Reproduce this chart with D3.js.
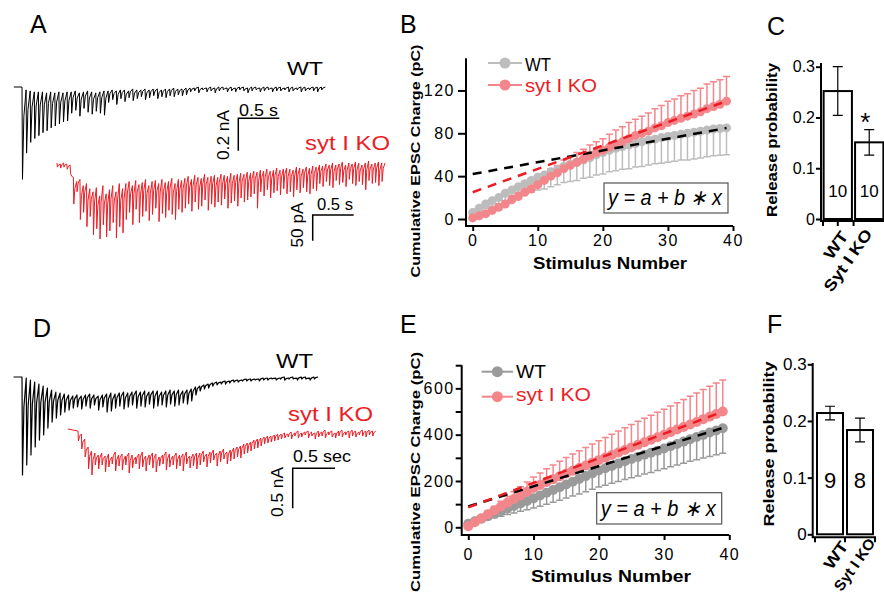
<!DOCTYPE html>
<html>
<head>
<meta charset="utf-8">
<script src="https://cdn.jsdelivr.net/npm/d3@7"></script>
<style>
  body { margin: 0; background: #fff; }
  svg { display: block; font-family: "Liberation Sans", Arial, sans-serif; }
</style>
</head>
<body>
<svg id="fig" width="884" height="602"></svg>
<script>
// ---------- data ----------
// example traces: peak amplitude of each response and level just before it (pA, inward = positive)
const wtTraceA_peak = [570,408,342,318,300,282,270,252,240,228,216,210,
  162,144,180,132,156,168,150,162,174,
  96,78,108,72,90,66,84,72,60,78,66,54,72,60,66,54,60,48,54,48,
  30,24,36,18,30,24,36,24,18,30,24,30,18,24,36,24,18,30,24,18,30,24,24,18,30,24,18,30,24,18,24,30,18];
const wtTraceA_top = [0,18,24,30,30,30,36,30,36,30,36,30,
  30,24,36,30,24,30,36,30,24,
  24,18,24,18,18,24,12,18,18,12,18,12,12,18,12,12,6,12,12,6,
  6,6,0,6,6,0,6,0,0,6,0,6,0,0,6,0,0,6,0,0,6,0,0,6,0,0,6,0,0,6,0,0,0];
const koTraceA_peak = [8,10,8,12,20,
  80,56,110,96,124,104,
  140,128,148,120,144,132,116,146,124,136,
  110,96,120,90,116,104,94,112,100,88,114,98,106,92,100,110,90,96,
  88,80,94,76,90,84,72,92,80,86,76,82,70,88,78,74,84,68,76,72,66,
  60,88,56,64,52,68,58,54,62,50,60,56,66,52,58,48,56,60,50,54,
  40,46,36,44,48,34,42,38,46,32,40,44,36,42,52,34,40,38,44,36];
const koTraceA_top = [0,2,0,2,4,
  28,36,32,44,40,50,
  56,48,64,44,60,52,44,56,40,50,
  40,36,44,34,42,38,32,44,36,34,40,32,38,36,30,40,32,34,
  30,26,32,24,28,30,22,28,26,24,28,22,24,26,20,24,22,20,22,18,20,
  16,18,14,16,12,16,14,10,14,12,10,12,14,8,10,12,8,10,6,8,
  4,6,2,4,0,4,2,-2,4,0,2,-2,0,4,0,-4,2,0,-2,0];
const wtTraceD_peak = [1225,1100,975,875,788,725,638,563,513,475,438,413,388,375,400,363,388,350,413,375,
  438,425,388,363,400,375,350,388,363,375,338,388,363,350,375,338,363,350,325,338,
  300,225,175,150,138,113,100,88,88,75,63,63,50,50,50,38,50,38,38,25,38,25,38,25,25,38,25,25,38,25];
const wtTraceD_top = [0,13,38,63,88,113,138,163,188,200,213,225,238,225,238,225,213,225,238,225,
  213,200,213,200,188,200,188,175,188,175,188,175,175,188,175,163,175,163,175,163,
  150,125,113,100,88,75,63,63,50,50,38,38,38,25,25,25,25,13,13,13,13,13,0,13,0,13,0,0,13,0];
const koTraceD_peak = [150,250,350,500,575,450,
  500,450,538,475,438,525,463,513,450,550,488,438,500,475,525,450,488,538,463,438,513,475,450,500,463,525,438,488,463,500,
  450,413,475,425,388,463,413,375,438,400,
  375,350,363,313,300,275,250,238,213,188,175,163,150,138,125,
  113,100,125,88,113,100,75,113,88,125,100,88,113,75,100,113,88,100,75,113,88,100,75,88,100,75,88];
const koTraceD_top = [25,63,125,225,275,300,
  325,300,338,313,350,288,325,313,338,300,325,350,313,288,338,325,300,313,350,325,288,313,338,300,325,313,288,338,313,300,
  300,275,313,288,263,300,275,250,288,263,
  238,225,213,188,175,163,138,125,113,100,88,88,75,63,63,
  50,63,38,50,25,50,38,25,38,50,25,38,13,38,25,50,25,13,38,25,13,25,38,13,25,13,25];

// cumulative EPSC charge (pC) vs stimulus number
const stimulus = d3.range(40);
const wtChargeB = [6,10,14,17,20,24,27,30,33,36,39,41,44,46,49,51,53,55,57,60,
  62,64,66,67.5,69,70.5,72,73.5,74.5,76,77,78,79,80,81,82,83,84,84.5,85];
const wtSemB = [2,3,4,5,6,7,8,9,10,11,12,13,14,14,15,16,17,17,18,19,
  20,20,21,21,22,22,23,23,23,24,24,24,24,25,25,25,25,25,25,25];
const koChargeB = [1,3,5,8,11,14,18,21,25,28,32,36,40,43,47,50,53,56,59,62,
  64,67,70,72,75,78,80,82,85,87,90,92,94,96,98,100,103,105,107,110];
const koSemB = [1,1,2,2,3,3,4,4,5,5,6,6,7,7,8,8,9,9,10,10,
  11,12,13,14,15,15,16,17,18,19,20,20,21,21,22,22,23,23,23,23];
const fitWtB = [42, 1.1];    // a, b
const fitKoB = [25, 2.18];

const wtChargeE = [15,26,37,48,59,70,81,92,103,114,125,137,149,161,173,185,197,209,221,233,
  245,255,265,275,285,295,304,313,322,331,340,350,360,370,380,390,399,409,418,428];
const wtSemE = [3,6,10,14,18,22,26,30,34,38,42,46,50,53,56,59,62,65,67,69,
  71,73,75,77,79,81,82,83,85,86,87,89,91,93,95,98,100,103,105,108];
const koChargeE = [5,22,39,56,73,90,106,122,138,154,170,183,196,208,220,232,244,256,267,279,
  290,301,312,323,334,345,356,367,378,389,400,411,422,433,444,455,467,478,489,500];
const koSemE = [2,6,10,14,18,22,27,32,37,42,47,52,57,61,65,69,72,75,78,81,
  84,87,90,93,96,99,102,104,106,108,110,113,116,119,122,125,128,131,134,136];
const fitWtE = [90, 8.7];
const fitKoE = [86, 10.6];

// release probability
const groups = ["WT", "Syt I KO"];
const probC = [0.252, 0.151];
const semProbC = [0.048, 0.025];
const nC = [10, 10];
const probF = [0.214, 0.184];
const semProbF = [0.012, 0.021];
const nF = [9, 8];

// ---------- drawing ----------
const RED = "#ec1c24", PINK = "#f3868a";
const svg = d3.select("#fig");

function txt(p, s, x, y, o = {}) {
  const t = p.append("text")
    .attr("transform", `translate(${x},${y})` + (o.rot ? ` rotate(${o.rot})` : ""))
    .attr("font-size", o.size || 16)
    .attr("text-anchor", o.anchor || "start")
    .attr("fill", o.fill || "#000")
    .text(s);
  if (o.bold) t.attr("font-weight", "bold");
  if (o.italic) t.attr("font-style", "italic");
  if (o.len) t.attr("textLength", o.len).attr("lengthAdjust", "spacingAndGlyphs");
  return t;
}

// a trace: flat lead, then each response drops fast to its peak and decays towards the next level
function drawTrace(peaks, tops, xs, ys, dt, lead, color, w) {
  const pts = [[xs(-lead), ys(0)]];
  peaks.forEach((p, i) => {
    const t = i * dt;
    const next = i + 1 < tops.length ? tops[i + 1] : tops[i];
    pts.push([xs(t), ys(-tops[i])]);
    pts.push([xs(t + dt * 0.12), ys(-p)]);
    pts.push([xs(t + dt * 0.45), ys(-(next + (p - next) * 0.3))]);
  });
  pts.push([xs(peaks.length * dt), ys(-tops[tops.length - 1])]);
  svg.append("path").attr("d", d3.line()(pts))
    .attr("fill", "none").attr("stroke", color).attr("stroke-width", w || 1)
    .attr("stroke-linejoin", "round");
}

function scaleBar(x0, y0, xs, ys, sec, amp) {
  const w = xs(sec) - xs(0), h = ys(-amp) - ys(0);
  svg.append("path").attr("d", `M${x0 + w},${y0}H${x0}V${y0 + h}`)
    .attr("fill", "none").attr("stroke", "#000").attr("stroke-width", 1.5);
}

// Panel A
const xWtA = d3.scaleLinear().domain([0, 1]).range([22, 104]);
const yWtA = d3.scaleLinear().domain([0, -200]).range([87, 119.4]);
const xKoA = d3.scaleLinear().domain([0, 1]).range([57, 139]);
const yKoA = d3.scaleLinear().domain([0, -50]).range([163, 188.7]);
drawTrace(wtTraceA_peak, wtTraceA_top, xWtA, yWtA, 0.05, 0.1, "#000");
drawTrace(koTraceA_peak, koTraceA_top, xKoA, yKoA, 0.04, 0, RED);
scaleBar(238.3, 118.3, xWtA, yWtA, 0.5, 200);
scaleBar(312.7, 215, xKoA, yKoA, 0.5, 50);
txt(svg, "0.5 s", 239, 116, { size: 17, len: 39 });
txt(svg, "0.2 nA", 229, 135, { size: 17, rot: -90, anchor: "middle", len: 50 });
txt(svg, "0.5 s", 317, 210, { size: 17, len: 36 });
txt(svg, "50 pA", 303, 225, { size: 17, rot: -90, anchor: "middle", len: 45 });
txt(svg, "WT", 287, 75, { size: 19, len: 36 });
txt(svg, "syt I KO", 305, 150, { size: 20, len: 85, fill: RED });

// Panel D
const xWtD = d3.scaleLinear().domain([0, 1]).range([22, 106.6]);
const yWtD = d3.scaleLinear().domain([0, -500]).range([377, 417]);
const xKoD = d3.scaleLinear().domain([0, 1]).range([78, 162.6]);
const yKoD = d3.scaleLinear().domain([0, -500]).range([429, 469]);
drawTrace(wtTraceD_peak, wtTraceD_top, xWtD, yWtD, 0.05, 0.1, "#000", 1.2);
drawTrace(koTraceD_peak, koTraceD_top, xKoD, yKoD, 0.04, 0.12, RED);
scaleBar(292.7, 468.3, xWtD, yWtD, 0.5, 500);
txt(svg, "0.5 sec", 293, 462, { size: 17, len: 58 });
txt(svg, "0.5 nA", 283, 492, { size: 17, rot: -90, anchor: "middle", len: 50 });
txt(svg, "WT", 276, 368, { size: 20, len: 37 });
txt(svg, "syt I KO", 288, 421, { size: 20, len: 85, fill: RED });

// Panels B and E
function cumPanel(o) {
  const x = d3.scaleLinear().domain([0, 40]).range(o.xr);
  const y = d3.scaleLinear().domain([0, o.ymax]).range(o.yr);
  const g = svg.append("g");

  g.append("path").attr("d", `M${o.ax},${y(o.ymax)}V${o.axY}H${x(40)}`)
    .attr("fill", "none").attr("stroke", "#000").attr("stroke-width", 2);
  const xa = g.append("g").attr("transform", `translate(0,${o.axY})`)
    .call(d3.axisBottom(x).tickValues([0, 10, 20, 30, 40]).tickSize(5).tickPadding(o.xpad));
  const ya = g.append("g").attr("transform", `translate(${o.ax},0)`)
    .call(d3.axisLeft(y).tickValues(o.yticks).tickFormat(o.yfmt).tickSize(o.ytick).tickPadding(o.ypad));
  [xa, ya].forEach(a => {
    a.select(".domain").remove();
    a.attr("font-size", 16).attr("font-family", null);
    a.selectAll("line").attr("stroke-width", 2);
    a.selectAll("text").attr("letter-spacing", 1.5);
  });

  const cap = 3.5;
  // WT error bars (down), KO error bars (up)
  stimulus.forEach(i => {
    const xi = x(i);
    const lo = y(o.wt[i] - o.wtSem[i]);
    g.append("path").attr("d", `M${xi},${y(o.wt[i])}V${lo}M${xi - cap},${lo}H${xi + cap}`)
      .attr("stroke", o.gray).attr("stroke-width", 1.5).attr("fill", "none");
  });
  stimulus.forEach(i => {
    const xi = x(i);
    const hi = y(o.ko[i] + o.koSem[i]);
    g.append("path").attr("d", `M${xi},${y(o.ko[i])}V${hi}M${xi - cap},${hi}H${xi + cap}`)
      .attr("stroke", PINK).attr("stroke-width", 1.5).attr("fill", "none");
  });
  const line = d3.line().x((d, i) => x(i)).y(d => y(d));
  [[o.wt, o.gray], [o.ko, PINK]].forEach(([vals, c]) => {
    g.append("path").attr("d", line(vals)).attr("fill", "none").attr("stroke", c).attr("stroke-width", 1.5);
    g.selectAll(null).data(vals).join("circle")
      .attr("cx", (d, i) => x(i)).attr("cy", d => y(d)).attr("r", o.r).attr("fill", c);
  });
  // linear fits
  [[o.fitWt, "#000"], [o.fitKo, RED]].forEach(([f, c]) => {
    g.append("line")
      .attr("x1", x(0)).attr("y1", y(f[0]))
      .attr("x2", x(39)).attr("y2", y(f[0] + f[1] * 39))
      .attr("stroke", c).attr("stroke-width", 2.5).attr("stroke-dasharray", "9,7");
  });

  // legend
  const lg = o.legend;
  [[o.gray, "WT", "#000", lg.y1, lg.t1, lg.len1], [PINK, "syt I KO", RED, lg.y2, lg.t2, lg.len2]].forEach(([c, s, tc, ly, ty, len]) => {
    g.append("line").attr("x1", lg.x1).attr("x2", lg.x2).attr("y1", ly).attr("y2", ly)
      .attr("stroke", c).attr("stroke-width", 2);
    g.append("circle").attr("cx", (lg.x1 + lg.x2) / 2).attr("cy", ly).attr("r", 5.5).attr("fill", c);
    txt(g, s, lg.x2 + 3, ty, { size: 18, fill: tc, len: len });
  });

  // equation box
  const b = o.box;
  g.append("rect").attr("x", b.x).attr("y", b.y).attr("width", b.w).attr("height", b.h)
    .attr("fill", "#fff").attr("stroke", "#555").attr("stroke-width", 1.2);
  txt(g, "y = a + b \u2217 x", b.x + 4, b.y + b.h - 8, { size: 22, italic: true, len: b.w - 10 });

  txt(g, "Stimulus Number", o.xlab[0], o.xlab[1], { size: 16, bold: true, anchor: "middle", len: o.xlab[2] });
  txt(g, "Cumulative EPSC Charge (pC)", o.ylab[0], o.ylab[1], { size: 13, bold: true, rot: -90, anchor: "middle", len: o.ylab[2] });
}

cumPanel({
  xr: [472.7, 733], ymax: 150, yr: [219, 58.3], ax: 466, axY: 226,
  xpad: 4, yticks: [0, 40, 80, 120], yfmt: d => d, ytick: 8, ypad: 3,
  wt: wtChargeB, wtSem: wtSemB, ko: koChargeB, koSem: koSemB,
  fitWt: fitWtB, fitKo: fitKoB, gray: "#bdbdbd", r: 4.5,
  legend: { x1: 488, x2: 522, y1: 63, t1: 71, len1: 26, y2: 85, t2: 92, len2: 72 },
  box: { x: 604, y: 183, w: 124, h: 30 },
  xlab: [610, 269, 154], ylab: [420, 161, 233]
});

cumPanel({
  xr: [468.3, 729.3], ymax: 700, yr: [527.3, 365.2], ax: 461.7, axY: 535,
  xpad: 9, yticks: d3.range(0, 701, 100), yfmt: d => (d % 200 === 0 ? d : ""), ytick: 6, ypad: 1,
  wt: wtChargeE, wtSem: wtSemE, ko: koChargeE, koSem: koSemE,
  fitWt: fitWtE, fitKo: fitKoE, gray: "#9a9a9a", r: 5,
  legend: { x1: 481.7, x2: 513, y1: 371.7, t1: 378, len1: 30, y2: 396.7, t2: 401, len2: 75 },
  box: { x: 596.7, y: 492.7, w: 125, h: 31.3 },
  xlab: [611, 582, 160], ylab: [420, 472, 240]
});

// Panels C and F
function barPanel(o) {
  const y = d3.scaleLinear().domain([0, 0.3]).range([o.y0, o.y3]);
  const x = d3.scaleBand().domain(groups).range(o.xr).paddingInner(o.pi).paddingOuter(o.po);
  const g = svg.append("g");
  g.append("path").attr("d", `M${o.ax},${o.axTop}V${o.axY}H${o.xEnd}`)
    .attr("fill", "none").attr("stroke", "#000").attr("stroke-width", 2);
  const ya = g.append("g").attr("transform", `translate(${o.ax},0)`)
    .call(d3.axisLeft(y).tickValues([0, 0.1, 0.2, 0.3])
      .tickFormat(d => (d === 0 ? "0" : d3.format(".1f")(d))).tickSize(5).tickPadding(1));
  ya.select(".domain").remove();
  ya.attr("font-size", o.tsize).attr("font-family", null);
  ya.selectAll("line").attr("stroke-width", 2);

  o.xticks(x).forEach(t => {
    g.append("line").attr("x1", t).attr("x2", t).attr("y1", o.axY).attr("y2", o.axY + 5)
      .attr("stroke", "#000").attr("stroke-width", 2);
  });

  groups.forEach((k, i) => {
    const bx = x(k), bw = x.bandwidth(), cx = bx + bw / 2;
    g.append("rect").attr("x", bx).attr("y", y(o.vals[i])).attr("width", bw)
      .attr("height", y(0) - y(o.vals[i])).attr("fill", "#fff").attr("stroke", "#000").attr("stroke-width", 2);
    const hi = y(o.vals[i] + o.sem[i]), lo = y(o.vals[i] - o.sem[i]);
    g.append("path").attr("d", `M${cx},${hi}V${lo}M${cx - 5},${hi}H${cx + 5}M${cx - 5},${lo}H${cx + 5}`)
      .attr("fill", "none").attr("stroke", "#000").attr("stroke-width", 1.2);
    txt(g, o.n[i], cx, o.nY, { size: o.nSize, anchor: "middle" });
    const lab = o.labs[i];
    txt(g, k, lab[0], lab[1], { size: lab[3] || 16, bold: true, rot: -55, anchor: "end", len: lab[2] });
  });
  if (o.star) txt(g, "*", x(groups[1]) + x.bandwidth() / 2 - 4, o.star, { size: 26, anchor: "middle" });
  txt(g, "Release probability", o.ylab[0], o.ylab[1], { size: 15, bold: true, rot: -90, anchor: "middle", len: o.ylab[2] });
}

barPanel({
  y0: 219, y3: 66.7, xr: [823, 884], pi: 0.1, po: 0.02, ax: 821, axTop: 63, axY: 221, xEnd: 884,
  tsize: 16, vals: probC, sem: semProbC, n: nC, nY: 197, nSize: 17, star: 131,
  labs: [[849, 236, 30], [873, 234, 72]],
  xticks: x => [823, x("WT") + x.bandwidth() / 2, x("Syt I KO") - 1.5],
  ylab: [777, 140, 154]
});

barPanel({
  y0: 534.3, y3: 364.3, xr: [815, 875], pi: 0.133, po: 0.067, ax: 812.7, axTop: 363, axY: 537.3, xEnd: 876,
  tsize: 17, vals: probF, sem: semProbF, n: nF, nY: 488, nSize: 22, star: null,
  labs: [[849, 546, 30], [876, 543, 60, 15]],
  xticks: x => [815, x("Syt I KO") - 2, 875],
  ylab: [774, 444, 165]
});

// panel letters
[["A", 30, 33], ["B", 400, 33], ["C", 767, 35], ["D", 33, 337], ["E", 400, 333], ["F", 767, 333]]
  .forEach(([s, x, y]) => txt(svg, s, x, y, { size: 25 }));
</script>
</body>
</html>
